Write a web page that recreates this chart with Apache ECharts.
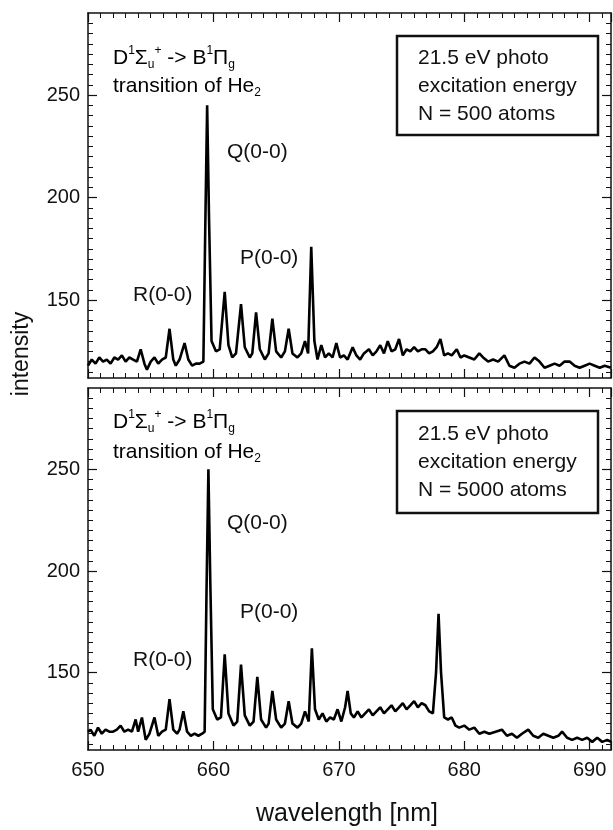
<!DOCTYPE html>
<html>
<head>
<meta charset="utf-8">
<script src="https://cdn.jsdelivr.net/npm/echarts@6/dist/echarts.min.js"></script>
<style>
  html, body { margin: 0; padding: 0; background: #fff; }
  #main { width: 613px; height: 830px; }
</style>
</head>
<body>
<div id="main"></div>
<script>
// He2 emission, N = 500 atoms (upper panel)
const wlTop = [650.0, 650.3, 650.6, 650.9, 651.2, 651.5, 651.8, 652.1, 652.4, 652.7, 653.0, 653.3, 653.6, 653.9,
  654.2, 654.5, 654.7, 655.0, 655.3, 655.6, 655.9, 656.2, 656.5, 656.8, 657.0, 657.3, 657.7, 658.0, 658.3, 658.6,
  658.9, 659.2, 659.35, 659.5, 659.65, 659.85, 660.2, 660.5, 660.9, 661.2, 661.5, 661.8, 662.2, 662.5, 662.9, 663.1,
  663.4, 663.7, 664.1, 664.4, 664.7, 665.0, 665.4, 665.7, 666.0, 666.3, 666.7, 667.0, 667.3, 667.55, 667.8, 668.05,
  668.3, 668.6, 668.9, 669.2, 669.5, 669.8, 670.1, 670.4, 670.7, 671.1, 671.4, 671.7, 672.0, 672.4, 672.7, 673.0,
  673.3, 673.6, 673.9, 674.2, 674.5, 674.8, 675.1, 675.4, 675.7, 676.0, 676.3, 676.6, 676.9, 677.2, 677.5, 677.8,
  678.1, 678.4, 678.7, 679.0, 679.4, 679.7, 680.0, 680.4, 680.8, 681.2, 681.5, 681.9, 682.3, 682.7, 683.2, 683.6,
  684.0, 684.4, 684.8, 685.2, 685.6, 686.0, 686.4, 686.8, 687.2, 687.6, 688.0, 688.4, 688.8, 689.2, 689.6, 690.0,
  690.4, 690.8, 691.2, 691.7];
const intTop = [118, 121, 119, 122, 120, 121, 119, 122, 121, 123, 120, 122, 121, 120,
  126, 119, 116, 120, 122, 119, 121, 122, 136, 121, 118, 121, 129, 121, 118, 119,
  119, 120, 185, 245, 190, 130, 125, 126, 154, 128, 122, 124, 148, 127, 122, 124,
  144, 126, 121, 124, 141, 125, 122, 125, 136, 124, 122, 124, 130, 124, 176, 130,
  121, 128, 122, 124, 122, 129, 122, 123, 121, 127, 123, 121, 124, 126, 123, 125,
  128, 124, 130, 125, 126, 131, 123, 126, 125, 127, 125, 126, 126, 124, 125, 127,
  131, 123, 124, 123, 126, 122, 123, 122, 121, 124, 122, 120, 121, 120, 123, 118,
  117, 119, 120, 119, 122, 120, 117, 118, 119, 118, 120, 120, 118, 117, 118, 119,
  118, 117, 118, 117];

// He2 emission, N = 5000 atoms (lower panel)
const wlBottom = [650.0, 650.2, 650.5, 650.8, 651.1, 651.4, 651.7, 652.0, 652.3, 652.6, 652.9, 653.2, 653.5, 653.8,
  654.0, 654.3, 654.6, 654.9, 655.3, 655.6, 655.9, 656.2, 656.5, 656.8, 657.1, 657.3, 657.6, 657.9, 658.2, 658.5,
  658.8, 659.1, 659.3, 659.45, 659.6, 659.75, 659.95, 660.3, 660.6, 660.9, 661.2, 661.6, 661.9, 662.2, 662.5, 662.9,
  663.2, 663.5, 663.8, 664.2, 664.4, 664.7, 665.0, 665.4, 665.7, 666.0, 666.3, 666.7, 667.0, 667.3, 667.6, 667.85,
  668.1, 668.4, 668.7, 669.0, 669.3, 669.6, 669.9, 670.2, 670.5, 670.7, 670.95, 671.2, 671.5, 671.8, 672.1, 672.4,
  672.7, 673.0, 673.3, 673.6, 673.9, 674.2, 674.5, 674.8, 675.1, 675.4, 675.7, 676.0, 676.3, 676.6, 676.9, 677.2,
  677.5, 677.75, 677.95, 678.15, 678.4, 678.7, 679.0, 679.3, 679.6, 680.0, 680.4, 680.8, 681.2, 681.6, 682.0, 682.5,
  683.0, 683.4, 683.8, 684.2, 684.6, 685.1, 685.5, 685.9, 686.3, 686.7, 687.1, 687.5, 687.8, 688.2, 688.6, 689.0,
  689.4, 689.8, 690.2, 690.6, 691.0, 691.4, 691.7];
const intBottom = [121, 122, 119, 123, 120, 122, 121, 121, 122, 124, 121, 122, 121, 127,
  121, 128, 117, 120, 128, 119, 121, 122, 137, 122, 120, 122, 131, 121, 119, 120,
  119, 120, 121, 190, 250, 195, 132, 127, 128, 159, 130, 124, 126, 154, 129, 124,
  126, 148, 127, 123, 125, 141, 127, 123, 125, 136, 125, 123, 125, 131, 126, 162,
  132, 127, 130, 126, 128, 127, 132, 126, 133, 141, 130, 128, 131, 128, 130, 132,
  129, 131, 133, 130, 132, 134, 131, 133, 135, 132, 134, 136, 133, 135, 134, 131,
  130, 150, 179, 150, 128, 127, 128, 124, 123, 124, 122, 123, 120, 121, 120, 121,
  122, 119, 120, 118, 120, 122, 119, 118, 120, 119, 118, 119, 121, 118, 117, 118,
  117, 118, 116, 118, 116, 117, 116];

const xTicks = [650, 660, 670, 680, 690];
const yTicks = [150, 200, 250];
const yMinorTicks = [];
for (let v = 115; v <= 285; v += 5) yMinorTicks.push(v);

const FONT = '"Liberation Sans", Arial, Helvetica, sans-serif';
const X_MIN = 650, X_MAX = 691.7, Y_MIN = 112, Y_MAX = 290;

const chart = echarts.init(document.getElementById('main'));

// 外框 + 朝内的刻度
const makeX = (gridIndex, position, withLabels) => ({
  type: 'value', gridIndex, position, min: X_MIN, max: X_MAX, interval: 10,
  axisLine: { show: true, onZero: false, lineStyle: { color: '#111', width: 1.5 } },
  axisTick: { show: true, inside: true, length: 9, lineStyle: { color: '#111', width: 1.2 } },
  minorTick: { show: true, splitNumber: 10, length: 5, lineStyle: { color: '#111', width: 1 } },
  axisLabel: { show: withLabels, customValues: xTicks, fontSize: 20, color: '#111', fontFamily: FONT, margin: 10 },
  splitLine: { show: false }
});

const makeY = (gridIndex, position, major, withLabels) => ({
  type: 'value', gridIndex, position, min: Y_MIN, max: Y_MAX,
  axisLine: { show: major, onZero: false, lineStyle: { color: '#111', width: 1.5 } },
  axisTick: { show: true, inside: true, customValues: major ? yTicks : yMinorTicks,
    length: major ? 9 : 5, lineStyle: { color: '#111', width: major ? 1.2 : 1 } },
  axisLabel: { show: withLabels, customValues: yTicks, fontSize: 20, color: '#111', fontFamily: FONT, margin: 8 },
  splitLine: { show: false }
});

const txt = (x, y, text, extra) => ({
  type: 'text', x, y, z: 50,
  style: Object.assign({ text, font: '21px ' + FONT, fill: '#111', verticalAlign: 'middle', textVerticalAlign: 'middle' }, extra || {})
});

const richStyle = {
  n: { fontSize: 21, fontFamily: FONT, color: '#111', lineHeight: 26 },
  sup: { fontSize: 12, fontFamily: FONT, color: '#111', verticalAlign: 'top', lineHeight: 12 },
  sub: { fontSize: 12, fontFamily: FONT, color: '#111', verticalAlign: 'bottom', lineHeight: 12 }
};
const richTxt = (x, y, text) => ({
  type: 'text', x, y, z: 50,
  style: { text, rich: richStyle, verticalAlign: 'middle', textVerticalAlign: 'middle' }
});
const line1 = '{n|D}{sup|1}{n|Σ}{sub|u}{sup|+}{n| -> B}{sup|1}{n|Π}{sub|g}';
const line2 = '{n|transition of He}{sub|2}';

const box = (y, h) => ({
  type: 'rect', z: 40, shape: { x: 397, y, width: 201, height: h },
  style: { fill: '#fff', stroke: '#111', lineWidth: 2.5 }
});

const option = {
  animation: false,
  backgroundColor: '#fff',
  grid: [
    { left: 88, top: 13, width: 523, height: 365 },
    { left: 88, top: 388, width: 523, height: 362 }
  ],
  xAxis: [
    makeX(0, 'bottom', false), makeX(0, 'top', false),
    makeX(1, 'bottom', true), makeX(1, 'top', false)
  ],
  yAxis: [
    makeY(0, 'left', true, true), makeY(0, 'left', false, false),
    makeY(0, 'right', true, false), makeY(0, 'right', false, false),
    makeY(1, 'left', true, true), makeY(1, 'left', false, false),
    makeY(1, 'right', true, false), makeY(1, 'right', false, false)
  ],
  series: [
    {
      type: 'line', xAxisIndex: 0, yAxisIndex: 0, showSymbol: false,
      lineStyle: { color: '#000', width: 2.6 },
      data: wlTop.map((w, i) => [w, intTop[i]])
    },
    {
      type: 'line', xAxisIndex: 2, yAxisIndex: 4, showSymbol: false,
      lineStyle: { color: '#000', width: 2.6 },
      data: wlBottom.map((w, i) => [w, intBottom[i]])
    }
  ],
  graphic: [
    // upper panel
    richTxt(113, 58, line1),
    richTxt(113, 86, line2),
    txt(227, 152, 'Q(0-0)'),
    txt(240, 258, 'P(0-0)'),
    txt(133, 295, 'R(0-0)'),
    box(36, 99),
    txt(418, 58, '21.5 eV photo'),
    txt(418, 86, 'excitation energy'),
    txt(418, 114, 'N = 500 atoms'),
    // lower panel
    richTxt(113, 422, line1),
    richTxt(113, 452, line2),
    txt(227, 523, 'Q(0-0)'),
    txt(240, 612, 'P(0-0)'),
    txt(133, 660, 'R(0-0)'),
    box(411, 102),
    txt(418, 434, '21.5 eV photo'),
    txt(418, 462, 'excitation energy'),
    txt(418, 490, 'N = 5000 atoms'),
    // axis names
    txt(347, 814, 'wavelength [nm]', { font: '25px ' + FONT, align: 'center', textAlign: 'center' }),
    {
      type: 'text', x: 22, y: 354, rotation: Math.PI / 2, z: 50,
      style: { text: 'intensity', font: '23px ' + FONT, fill: '#111',
        align: 'center', textAlign: 'center', verticalAlign: 'middle', textVerticalAlign: 'middle' }
    }
  ]
};

chart.setOption(option);
</script>
</body>
</html>
